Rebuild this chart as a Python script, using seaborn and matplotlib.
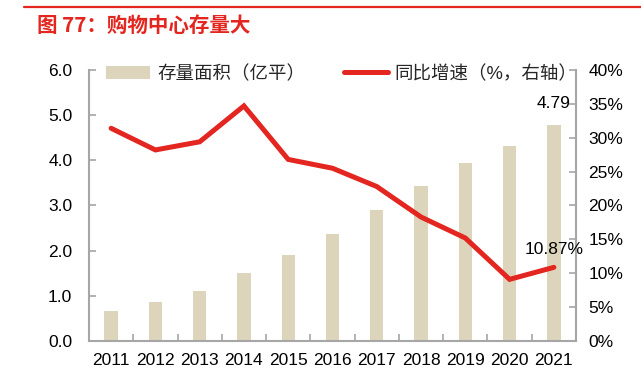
import numpy as np
import pandas as pd
import matplotlib
matplotlib.use("Agg")
import matplotlib.pyplot as plt
import seaborn as sns
from matplotlib.lines import Line2D
from matplotlib.patches import Patch

years = ["2011", "2012", "2013", "2014", "2015", "2016", "2017", "2018", "2019", "2020", "2021"]
stock_area = [0.66, 0.86, 1.11, 1.50, 1.90, 2.37, 2.90, 3.43, 3.95, 4.31, 4.79]
yoy_growth = [31.4, 28.2, 29.4, 34.7, 26.8, 25.5, 22.8, 18.3, 15.2, 9.1, 10.87]
left_ticks = [0.0, 1.0, 2.0, 3.0, 4.0, 5.0, 6.0]
right_ticks = [0, 5, 10, 15, 20, 25, 30, 35, 40]

sns.set_theme(style="white")
plt.rcParams['font.family'] = ['Liberation Sans', 'Noto Sans CJK SC', 'DejaVu Sans']

BAR_C = "#ddd4bc"
RED = "#e3261f"
SPINE = "#a6a6a6"

df = pd.DataFrame({"year": years, "area": stock_area, "yoy": yoy_growth,
                   "pos": np.arange(len(years))})

fig = plt.figure(figsize=(6.41, 3.78), dpi=100)
ax = fig.add_axes([0.1388, 0.0979, 0.8986 - 0.1388, 0.8148 - 0.0979])

sns.barplot(data=df, x="year", y="area", color=BAR_C, width=0.3, ax=ax,
            saturation=1, edgecolor="none")
ax.set_xlim(-0.5, len(years) - 0.5)
ax.set_ylim(0, 6)
ax.set_yticks(left_ticks)
ax.set_yticklabels([f"{v:.1f}" for v in left_ticks])
ax.set_xlabel("")
ax.set_ylabel("")

ax2 = ax.twinx()
sns.lineplot(data=df, x="pos", y="yoy", color=RED, linewidth=3.6, ax=ax2,
             solid_capstyle="round", solid_joinstyle="miter")
ax2.set_ylim(0, 40)
ax2.set_yticks(right_ticks)
ax2.set_yticklabels([f"{v}%" for v in right_ticks])
ax2.set_xlabel("")
ax2.set_ylabel("")
ax2.set_xlim(-0.5, len(years) - 0.5)

for a in (ax, ax2):
    for s in a.spines.values():
        s.set_visible(False)
ax.spines['left'].set_visible(True)
ax.spines['bottom'].set_visible(True)
ax2.spines['right'].set_visible(True)
for s in (ax.spines['left'], ax.spines['bottom'], ax2.spines['right']):
    s.set_color(SPINE)
    s.set_linewidth(1.5)

ax.set_xticks(np.arange(-0.5, len(years), 1), minor=True)
ax.tick_params(axis='x', which='major', length=0, pad=9, labelsize=12.5, colors='black')
ax.tick_params(axis='x', which='minor', length=5, direction='in', color=SPINE, width=1.2, bottom=True)
ax.tick_params(axis='y', length=5, direction='in', color=SPINE, width=1.2, pad=12,
               labelsize=12.5, left=True, labelcolor='black')
ax2.tick_params(axis='y', length=5, direction='in', color=SPINE, width=1.2, pad=9,
                labelsize=12.5, right=True, labelcolor='black')
ax.grid(False)
ax2.grid(False)

# annotations
ax.text(len(years) - 1, stock_area[-1] + 0.3, f"{stock_area[-1]:.2f}", ha='center', va='bottom',
        fontsize=12.5, color='black')
ax2.text(len(years) - 1, yoy_growth[-1] + 1.6, f"{yoy_growth[-1]:.2f}%", ha='center', va='bottom',
         fontsize=12.5, color='black')

handles = [Patch(facecolor=BAR_C, edgecolor='none'),
           Line2D([0], [0], color=RED, linewidth=3.6, solid_capstyle='round')]
labels = ["存量面积（亿平）", "同比增速（%，右轴）"]
leg = ax.legend(handles, labels, ncol=2, loc='upper left', bbox_to_anchor=(0.02, 1.045),
                frameon=False, fontsize=13.3, handlelength=2.4, handleheight=0.7,
                handletextpad=0.35, columnspacing=2.1, borderaxespad=0)

# title and top rule
fig.add_artist(Line2D([24 / 641, 1.0], [1 - 7 / 378, 1 - 7 / 378], color=RED, linewidth=1.6,
                      transform=fig.transFigure))
fig.text(37 / 641, 1 - 25 / 378, "图 77：购物中心存量大", color=RED, fontsize=14.8,
         fontweight='bold', va='center', ha='left',
         family=['Noto Sans CJK SC', 'DejaVu Sans'])

fig.savefig("out.png", dpi=100)
